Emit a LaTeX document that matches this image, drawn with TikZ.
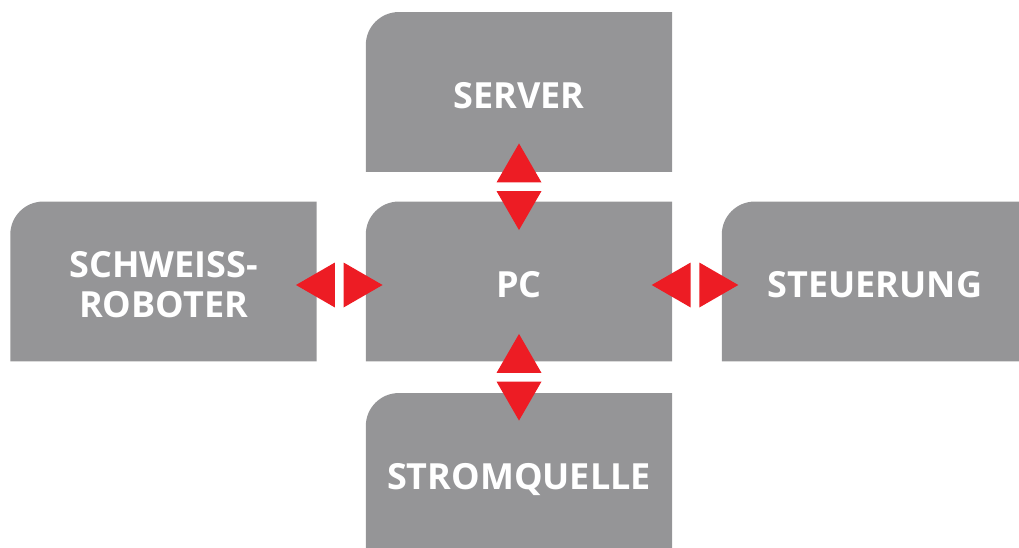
\documentclass[tikz,border=0pt]{standalone}
\usepackage{fontspec}
\setmainfont{Open Sans}
\usetikzlibrary{calc,backgrounds}
\definecolor{boxgray}{RGB}{149,149,151}
\definecolor{arrowred}{RGB}{237,28,36}
\tikzset{
  tab/.style={minimum width=306pt, minimum height=159.5pt, inner sep=0pt,
    text=white, font=\fontsize{36}{40}\selectfont\bfseries, align=center},
  oneline/.style={text height=32.7pt, text depth=0pt},
  twoline/.style={text height=72.4pt, text depth=0pt},
  tri/.style={fill=arrowred},
  pics/vpair/.style={code={
    \fill[tri] (-22.5,4.3) -- (22.5,4.3) -- (0,43.3) -- cycle;
    \fill[tri] (-22.5,-4.3) -- (22.5,-4.3) -- (0,-43.3) -- cycle;
  }},
  pics/hpair/.style={code={
    \fill[tri] (-4.3,-22.5) -- (-4.3,22.5) -- (-43.3,0) -- cycle;
    \fill[tri] (4.3,-22.5) -- (4.3,22.5) -- (43.3,0) -- cycle;
  }}
}
\begin{document}
\begin{tikzpicture}[x=1pt,y=1pt]
\useasboundingbox (0,0) rectangle (1019,547);
\clip (0,0) rectangle (1019,547);
\node[tab,oneline] (server) at (519,455) {SERVER};
\node[tab,oneline] (pc) at (519,265.5) {PC};
\node[tab,twoline] (schweiss) at (163.5,265.5) {SCHWEISS-\\ROBOTER};
\node[tab,oneline] (steuerung) at (875,265.5) {STEUERUNG};
\node[tab,oneline] (strom) at (519,74) {STROMQUELLE};
\begin{scope}[on background layer]
  \foreach \n in {server,pc,schweiss,steuerung,strom}
    \fill[boxgray] (\n.south west) -- ($(\n.north west)+(0,-33)$)
      arc[start angle=180,end angle=90,radius=33] -- (\n.north east)
      -- (\n.south east) -- cycle;
\end{scope}
\coordinate (vt) at ($(server.south)!0.5!(pc.north)$);
\coordinate (vb) at ($(pc.south)!0.5!(strom.north)$);
\coordinate (hl) at ($($(schweiss.east)!0.5!(pc.west)$)+(-2,-3.5)$);
\coordinate (hr) at ($($(pc.east)!0.5!(steuerung.west)$)+(-2,-3.5)$);
\pic at (vt) {vpair};
\pic at (vb) {vpair};
\pic at (hl) {hpair};
\pic at (hr) {hpair};
\end{tikzpicture}
\end{document}
